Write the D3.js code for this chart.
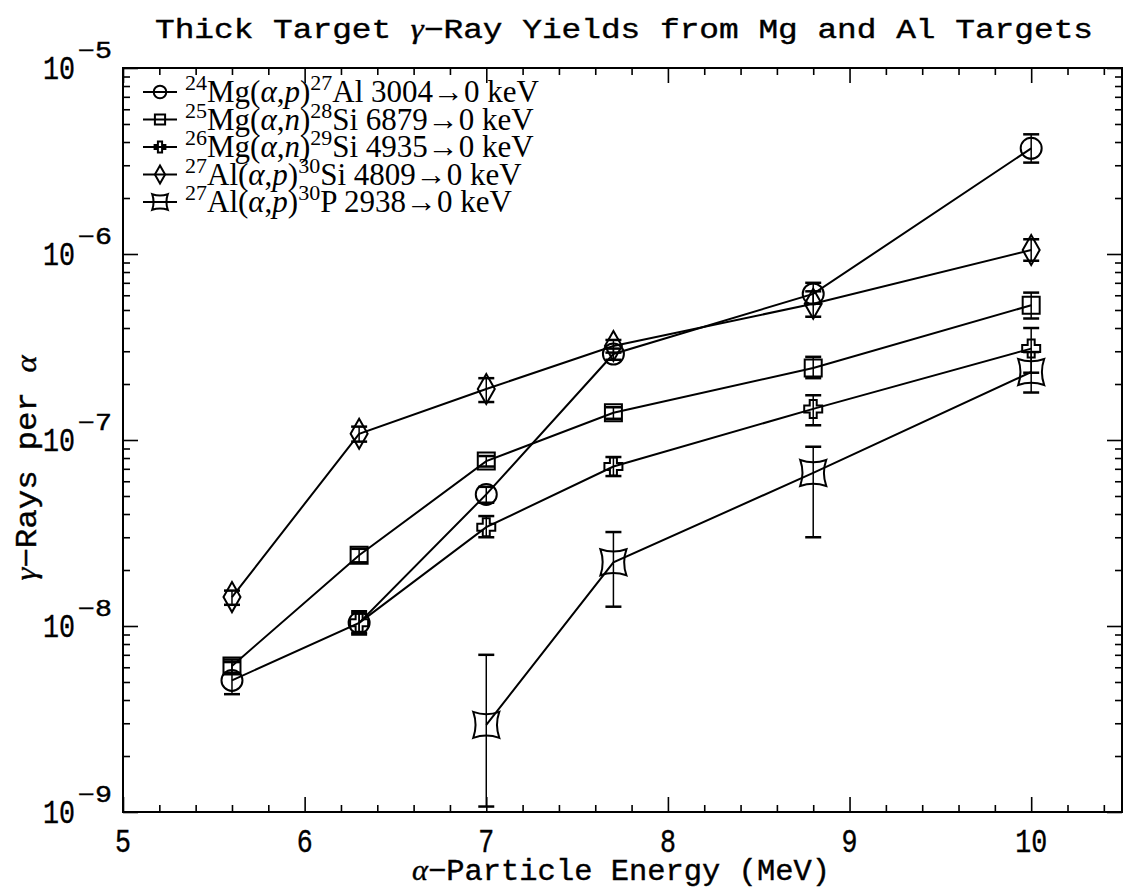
<!DOCTYPE html>
<meta charset="utf-8">
<style>
body { margin: 0; background: #fff; }
svg { display: block; }
.frame { fill: none; stroke: #000; stroke-width: 2px; }
.axis path { display: none; }
.axis line { stroke: #000; stroke-width: 1.6px; }
.link { fill: none; stroke: #000; stroke-width: 2px; }
.err { stroke: #000; stroke-width: 1.5px; }
.cap { stroke: #000; stroke-width: 2.5px; }
.mark { fill: none; stroke: #000; stroke-width: 2px; }
.mono { font-family: "Liberation Mono", monospace; fill: #000; stroke: #000; stroke-width: 0.4px; }
.serif { font-family: "Liberation Serif", serif; fill: #000; }
</style>
<body>
<script src="https://cdn.jsdelivr.net/npm/d3@7"></script>
<script>
var width = 1123,
    height = 888;

// beam energies (MeV)
var energy = [5.6, 6.3, 7.0, 7.7, 8.8, 10.0];

// 24Mg(a,p)27Al 3004->0
var mg24Yield = [5.1e-9, 1.04e-8, 5.1e-8, 2.9e-7, 6.1e-7, 3.7e-6];
var mg24Lo    = [4.3e-9, 9.2e-9, 4.6e-8, 2.7e-7, 5.4e-7, 3.1e-6];
var mg24Hi    = [6.4e-9, 1.17e-8, 5.6e-8, 3.1e-7, 7.0e-7, 4.4e-6];

// 25Mg(a,n)28Si 6879->0
var mg25Yield = [6.1e-9, 2.4e-8, 7.7e-8, 1.4e-7, 2.44e-7, 5.3e-7];
var mg25Lo    = [5.6e-9, 2.2e-8, 7.2e-8, 1.3e-7, 2.15e-7, 4.5e-7];
var mg25Hi    = [6.6e-9, 2.6e-8, 8.2e-8, 1.5e-7, 2.8e-7, 6.2e-7];

// 26Mg(a,n)29Si 4935->0
var mg26Yield = [null, 1.04e-8, 3.4e-8, 7.2e-8, 1.47e-7, 3.1e-7];
var mg26Lo    = [null, 9.0e-9, 3.0e-8, 6.4e-8, 1.2e-7, 2.3e-7];
var mg26Hi    = [null, 1.2e-8, 3.9e-8, 8.1e-8, 1.74e-7, 4.0e-7];

// 27Al(a,p)30Si 4809->0
var al27pYield = [1.43e-8, 1.08e-7, 1.88e-7, 3.2e-7, 5.4e-7, 1.05e-6];
var al27pLo    = [1.3e-8, 9.8e-8, 1.6e-7, 2.95e-7, 4.6e-7, 9.2e-7];
var al27pHi    = [1.55e-8, 1.18e-7, 2.15e-7, 3.45e-7, 6.3e-7, 1.2e-6];

// 27Al(a,n)30P 2938->0
var al27nYield = [null, null, 2.94e-9, 2.2e-8, 6.65e-8, 2.32e-7];
var al27nLo    = [null, null, 1.07e-9, 1.27e-8, 3.0e-8, 1.8e-7];
var al27nHi    = [null, null, 7.0e-9, 3.2e-8, 9.2e-8, 2.97e-7];

var xMajor = [5, 6, 7, 8, 9, 10];
var yDecades = [-9, -8, -7, -6, -5];

var legendRows = [
  {a: "24", el: "Mg", p: "p", b: "27", prod: "Al", txt: " 3004\u21920 keV", shape: "circle"},
  {a: "25", el: "Mg", p: "n", b: "28", prod: "Si", txt: " 6879\u21920 keV", shape: "square"},
  {a: "26", el: "Mg", p: "n", b: "29", prod: "Si", txt: " 4935\u21920 keV", shape: "plus"},
  {a: "27", el: "Al", p: "p", b: "30", prod: "Si", txt: " 4809\u21920 keV", shape: "diamond"},
  {a: "27", el: "Al", p: "p", b: "30", prod: "P", txt: " 2938\u21920 keV", shape: "star"}
];

var series = [
  {y: mg24Yield, lo: mg24Lo, hi: mg24Hi, shape: "circle"},
  {y: mg25Yield, lo: mg25Lo, hi: mg25Hi, shape: "square"},
  {y: mg26Yield, lo: mg26Lo, hi: mg26Hi, shape: "plus"},
  {y: al27pYield, lo: al27pLo, hi: al27pHi, shape: "diamond"},
  {y: al27nYield, lo: al27nLo, hi: al27nHi, shape: "star"}
];

var plotL = 123, plotR = 1122, plotT = 68, plotB = 812;

var x = d3.scaleLinear().domain([5, 10.5]).range([plotL, plotR]);
var y = d3.scaleLog().domain([1e-9, 1e-5]).range([plotB, plotT]);

var svg = d3.select("body").append("svg")
    .attr("width", width)
    .attr("height", height);

// marker outlines, s = scale factor
function shapePath(shape, s) {
  var p = d3.path();
  if (shape === "circle") {
    p.arc(0, 0, 10.5 * s, 0, 2 * Math.PI);
  } else if (shape === "square") {
    p.rect(-8.5 * s, -8.5 * s, 17 * s, 17 * s);
  } else if (shape === "diamond") {
    p.moveTo(0, -15 * s); p.lineTo(8.5 * s, 0); p.lineTo(0, 15 * s); p.lineTo(-8.5 * s, 0); p.closePath();
  } else if (shape === "plus") {
    var a = 3.5 * s, e = 9 * s;
    p.moveTo(-a, -e); p.lineTo(a, -e); p.lineTo(a, -a); p.lineTo(e, -a); p.lineTo(e, a);
    p.lineTo(a, a); p.lineTo(a, e); p.lineTo(-a, e); p.lineTo(-a, a); p.lineTo(-e, a);
    p.lineTo(-e, -a); p.lineTo(-a, -a); p.closePath();
  } else if (shape === "star") {
    var c = 13 * s, k = 0.65 * c;
    p.moveTo(-c, -c);
    p.quadraticCurveTo(0, -k, c, -c);
    p.quadraticCurveTo(k, 0, c, c);
    p.quadraticCurveTo(0, k, -c, c);
    p.quadraticCurveTo(-k, 0, -c, -c);
    p.closePath();
  }
  return p.toString();
}

// axes ticks (all inward)
var xMinor = d3.range(5, 10.51, 0.2).filter(function(v) { return Math.abs(v - Math.round(v)) > 1e-6; });
var yMinor = [];
yDecades.slice(0, -1).forEach(function(d) {
  for (var m = 2; m <= 9; m++) yMinor.push(m * Math.pow(10, d));
});
var yMajor = yDecades.map(function(d) { return Math.pow(10, d); });

function addAxis(gen, tr) {
  svg.append("g").attr("class", "axis").attr("transform", tr).call(gen);
}
addAxis(d3.axisBottom(x).tickValues(xMajor).tickSize(-15).tickFormat(""), "translate(0," + plotB + ")");
addAxis(d3.axisBottom(x).tickValues(xMinor).tickSize(-7).tickFormat(""), "translate(0," + plotB + ")");
addAxis(d3.axisTop(x).tickValues(xMajor).tickSize(-15).tickFormat(""), "translate(0," + plotT + ")");
addAxis(d3.axisTop(x).tickValues(xMinor).tickSize(-7).tickFormat(""), "translate(0," + plotT + ")");
addAxis(d3.axisLeft(y).tickValues(yMajor).tickSize(-15).tickFormat(""), "translate(" + plotL + ",0)");
addAxis(d3.axisLeft(y).tickValues(yMinor).tickSize(-7).tickFormat(""), "translate(" + plotL + ",0)");
addAxis(d3.axisRight(y).tickValues(yMajor).tickSize(-15).tickFormat(""), "translate(" + plotR + ",0)");
addAxis(d3.axisRight(y).tickValues(yMinor).tickSize(-7).tickFormat(""), "translate(" + plotR + ",0)");

svg.append("rect").attr("class", "frame")
    .attr("x", plotL).attr("y", plotT)
    .attr("width", plotR - plotL).attr("height", plotB - plotT);

// tick labels
svg.selectAll(".xlab").data(xMajor).enter().append("text")
    .attr("class", "mono")
    .attr("x", function(d) { return x(d); })
    .attr("y", plotB + 40)
    .attr("text-anchor", "middle")
    .attr("textLength", function(d) { return String(d).length * 16; })
    .attr("lengthAdjust", "spacingAndGlyphs")
    .style("font-size", "33px")
    .text(function(d) { return d; });

var ylab = svg.selectAll(".ylab").data(yDecades).enter().append("g")
    .attr("transform", function(d) { return "translate(0," + y(Math.pow(10, d)) + ")"; });
ylab.append("text").attr("class", "mono")
    .attr("x", 43).attr("y", 11)
    .attr("textLength", 32).attr("lengthAdjust", "spacingAndGlyphs")
    .style("font-size", "33px")
    .text("10");
ylab.append("text").attr("class", "mono")
    .attr("x", 78).attr("y", -10)
    .attr("textLength", 34).attr("lengthAdjust", "spacingAndGlyphs")
    .style("font-size", "23px")
    .text(function(d) { return "\u2212" + (-d); });

// title
var title = svg.append("text").attr("class", "mono")
    .attr("x", 624).attr("y", 38)
    .attr("text-anchor", "middle")
    .attr("textLength", 938).attr("lengthAdjust", "spacingAndGlyphs")
    .style("font-size", "27px");
title.append("tspan").text("Thick Target ");
title.append("tspan").attr("class", "serif").style("font-style", "italic").text("\u03b3");
title.append("tspan").text("\u2212Ray Yields from Mg and Al Targets");

// axis titles
var xt = svg.append("text").attr("class", "mono")
    .attr("x", 621).attr("y", 880)
    .attr("text-anchor", "middle")
    .attr("textLength", 418).attr("lengthAdjust", "spacingAndGlyphs")
    .style("font-size", "30px");
xt.append("tspan").attr("class", "serif").style("font-style", "italic").text("\u03b1");
xt.append("tspan").text("\u2212Particle Energy (MeV)");

var yt = svg.append("text").attr("class", "mono")
    .attr("transform", "translate(36,468) rotate(-90)")
    .attr("text-anchor", "middle")
    .attr("textLength", 225).attr("lengthAdjust", "spacingAndGlyphs")
    .style("font-size", "30px");
yt.append("tspan").attr("class", "serif").style("font-style", "italic").text("\u03b3");
yt.append("tspan").text("\u2212Rays per ");
yt.append("tspan").attr("class", "serif").style("font-style", "italic").text("\u03b1");

// data
var line = d3.line()
    .defined(function(d) { return d.v != null; })
    .x(function(d) { return x(d.e); })
    .y(function(d) { return y(d.v); });

series.forEach(function(s) {
  var pts = energy.map(function(e, i) { return {e: e, v: s.y[i], lo: s.lo[i], hi: s.hi[i]}; })
      .filter(function(d) { return d.v != null; });
  svg.append("path").attr("class", "link").attr("d", line(pts));
  var g = svg.append("g");
  pts.forEach(function(d) {
    var cx = x(d.e);
    g.append("line").attr("class", "err")
        .attr("x1", cx).attr("x2", cx).attr("y1", y(d.lo)).attr("y2", y(d.hi));
    [d.lo, d.hi].forEach(function(v) {
      g.append("line").attr("class", "cap")
          .attr("x1", cx - 8).attr("x2", cx + 8).attr("y1", y(v)).attr("y2", y(v));
    });
    g.append("path").attr("class", "mark")
        .attr("transform", "translate(" + cx + "," + y(d.v) + ")")
        .attr("d", shapePath(s.shape, 1));
  });
});

// legend
var lg = svg.append("g");
legendRows.forEach(function(r, i) {
  var ry = 92 + i * 27.5;
  lg.append("line").attr("class", "link").attr("x1", 143).attr("x2", 177).attr("y1", ry).attr("y2", ry);
  lg.append("path").attr("class", "mark")
      .attr("transform", "translate(160," + ry + ")")
      .attr("d", shapePath(r.shape, 0.6));
  var t = lg.append("text").attr("class", "serif")
      .attr("x", 185).attr("y", ry + 10)
      .style("font-size", "31px");
  t.append("tspan").attr("dy", -12).style("font-size", "22px").text(r.a);
  t.append("tspan").attr("dy", 12).text(r.el + "(");
  t.append("tspan").style("font-style", "italic").text("\u03b1");
  t.append("tspan").text(",");
  t.append("tspan").style("font-style", "italic").text(r.p);
  t.append("tspan").text(")");
  t.append("tspan").attr("dy", -12).style("font-size", "22px").text(r.b);
  t.append("tspan").attr("dy", 12).text(r.prod + r.txt);
});
</script>
</body>
</html>
